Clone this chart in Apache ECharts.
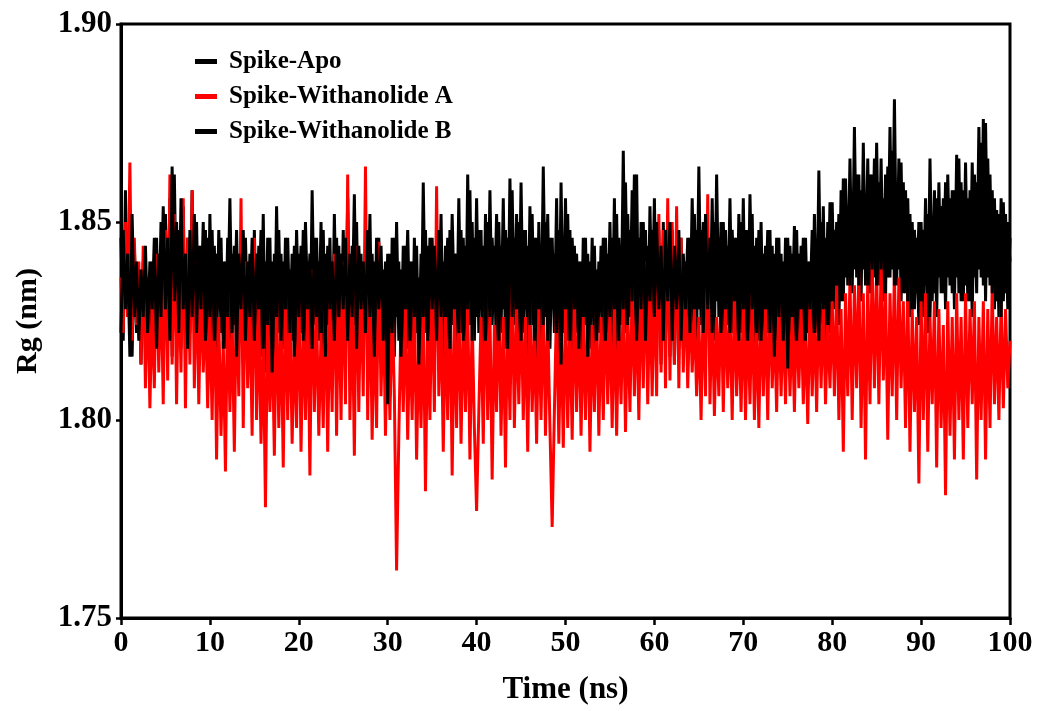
<!DOCTYPE html>
<html>
<head>
<meta charset="utf-8">
<script src="https://cdn.jsdelivr.net/npm/echarts@6/dist/echarts.min.js"></script>
<style>
html,body{margin:0;padding:0;background:#fff;}
#chart{width:1039px;height:711px;}
</style>
</head>
<body>
<div id="chart"></div>
<script>
// Sampling step of the trajectory (ns)
const timeStep = 0.25;
const xTicks = [0,10,20,30,40,50,60,70,80,90,100];
const yTicks = [1.75,1.80,1.85,1.90];
const seriesNames = ['Spike-Apo','Spike-Withanolide A','Spike-Withanolide B'];

const spikeApo = [
1.846,1.820,1.858,1.826,1.850,1.816,1.844,1.822,1.838,1.814,1.840,1.818,1.836,1.814,1.840,1.820,1.846,1.822,1.850,1.818,
1.852,1.822,1.856,1.816,1.862,1.824,1.848,1.818,1.854,1.816,1.846,1.822,1.858,1.826,1.850,1.818,1.844,1.822,1.848,1.816,
1.852,1.820,1.844,1.816,1.848,1.822,1.840,1.818,1.846,1.816,1.842,1.824,1.848,1.820,1.838,1.814,1.846,1.822,1.842,1.818,
1.848,1.822,1.844,1.816,1.852,1.812,1.846,1.820,1.840,1.814,1.854,1.822,1.842,1.818,1.846,1.814,1.838,1.820,1.844,1.816,
1.842,1.822,1.848,1.818,1.840,1.814,1.858,1.824,1.846,1.820,1.850,1.816,1.842,1.824,1.846,1.814,1.852,1.822,1.844,1.818,
1.848,1.820,1.856,1.816,1.844,1.824,1.850,1.818,1.842,1.814,1.846,1.822,1.852,1.816,1.840,1.820,1.846,1.814,1.838,1.818,
1.842,1.806,1.846,1.816,1.850,1.820,1.838,1.814,1.844,1.818,1.840,1.812,1.846,1.822,1.836,1.816,1.860,1.822,1.844,1.818,
1.846,1.814,1.840,1.822,1.852,1.816,1.844,1.812,1.848,1.824,1.842,1.818,1.856,1.822,1.846,1.816,1.862,1.824,1.850,1.820,
1.856,1.822,1.848,1.814,1.852,1.820,1.858,1.824,1.844,1.812,1.850,1.822,1.856,1.818,1.846,1.812,1.858,1.824,1.852,1.820,
1.860,1.822,1.848,1.816,1.854,1.824,1.846,1.812,1.850,1.820,1.864,1.826,1.852,1.818,1.846,1.822,1.856,1.816,1.860,1.822,
1.856,1.820,1.848,1.814,1.844,1.822,1.840,1.816,1.846,1.824,1.842,1.818,1.846,1.814,1.838,1.822,1.844,1.816,1.846,1.822,
1.850,1.818,1.856,1.814,1.846,1.824,1.868,1.822,1.852,1.826,1.858,1.822,1.862,1.818,1.850,1.822,1.848,1.816,1.854,1.824,
1.856,1.818,1.848,1.814,1.850,1.822,1.844,1.816,1.848,1.814,1.842,1.822,1.846,1.818,1.840,1.814,1.846,1.822,1.852,1.820,
1.864,1.824,1.850,1.820,1.846,1.822,1.856,1.820,1.862,1.826,1.850,1.820,1.848,1.824,1.856,1.822,1.846,1.818,1.852,1.822,
1.856,1.818,1.848,1.822,1.852,1.816,1.846,1.820,1.850,1.818,1.844,1.822,1.848,1.816,1.842,1.820,1.846,1.812,1.840,1.810,
1.846,1.818,1.842,1.814,1.848,1.820,1.844,1.814,1.846,1.822,1.840,1.818,1.852,1.822,1.863,1.824,1.854,1.820,1.850,1.822,
1.855,1.828,1.850,1.824,1.858,1.830,1.861,1.834,1.866,1.832,1.874,1.836,1.862,1.830,1.870,1.834,1.866,1.832,1.862,1.836,
1.870,1.834,1.866,1.830,1.862,1.836,1.874,1.838,1.881,1.834,1.866,1.830,1.860,1.832,1.856,1.826,1.850,1.828,1.846,1.824,
1.850,1.826,1.856,1.822,1.866,1.830,1.858,1.826,1.860,1.832,1.856,1.828,1.862,1.834,1.858,1.828,1.867,1.832,1.860,1.830,
1.865,1.830,1.858,1.826,1.862,1.832,1.874,1.836,1.876,1.830,1.866,1.834,1.858,1.828,1.853,1.826,1.856,1.830,1.852,1.828,
1.846
];

const spikeWithA = [
1.836,1.822,1.850,1.826,1.865,1.820,1.846,1.824,1.840,1.814,1.844,1.808,1.836,1.803,1.830,1.808,1.842,1.812,1.838,1.804,
1.848,1.810,1.862,1.814,1.852,1.804,1.840,1.812,1.856,1.803,1.846,1.814,1.858,1.808,1.840,1.804,1.836,1.812,1.830,1.803,
1.828,1.800,1.836,1.790,1.826,1.796,1.820,1.787,1.832,1.802,1.826,1.792,1.834,1.806,1.856,1.798,1.840,1.808,1.830,1.796,
1.846,1.800,1.828,1.794,1.822,1.778,1.830,1.802,1.824,1.791,1.832,1.798,1.826,1.788,1.834,1.800,1.828,1.794,1.822,1.798,
1.834,1.792,1.826,1.800,1.830,1.786,1.838,1.802,1.828,1.796,1.822,1.798,1.834,1.792,1.830,1.802,1.842,1.796,1.836,1.800,
1.840,1.804,1.862,1.800,1.832,1.791,1.844,1.802,1.838,1.806,1.864,1.800,1.836,1.795,1.828,1.798,1.845,1.806,1.832,1.796,
1.826,1.800,1.830,1.806,1.762,1.796,1.826,1.802,1.830,1.795,1.824,1.800,1.832,1.790,1.820,1.798,1.830,1.782,1.826,1.800,
1.836,1.802,1.859,1.806,1.830,1.792,1.826,1.800,1.834,1.786,1.828,1.798,1.832,1.794,1.826,1.802,1.830,1.790,1.826,1.798,
1.777,1.802,1.826,1.794,1.834,1.800,1.828,1.785,1.824,1.802,1.832,1.796,1.826,1.788,1.830,1.800,1.838,1.798,1.828,1.804,
1.832,1.800,1.826,1.792,1.830,1.802,1.824,1.794,1.828,1.800,1.832,1.796,1.826,1.798,1.773,1.802,1.830,1.794,1.826,1.793,
1.830,1.798,1.826,1.795,1.832,1.802,1.828,1.796,1.826,1.800,1.830,1.792,1.824,1.802,1.830,1.796,1.826,1.800,1.832,1.804,
1.828,1.798,1.830,1.796,1.826,1.804,1.832,1.797,1.828,1.802,1.834,1.806,1.830,1.800,1.836,1.808,1.840,1.804,1.834,1.806,
1.838,1.806,1.852,1.812,1.848,1.808,1.856,1.810,1.850,1.814,1.854,1.808,1.846,1.812,1.836,1.808,1.832,1.812,1.828,1.806,
1.826,1.800,1.832,1.806,1.857,1.804,1.830,1.801,1.826,1.806,1.834,1.802,1.830,1.808,1.828,1.800,1.832,1.806,1.826,1.802,
1.830,1.800,1.828,1.804,1.832,1.800,1.826,1.798,1.830,1.806,1.828,1.800,1.834,1.808,1.826,1.802,1.830,1.806,1.828,1.804,
1.832,1.806,1.826,1.802,1.830,1.808,1.828,1.804,1.824,1.799,1.830,1.806,1.828,1.802,1.832,1.808,1.830,1.804,1.826,1.808,
1.830,1.806,1.834,1.800,1.828,1.792,1.832,1.806,1.836,1.800,1.834,1.808,1.838,1.798,1.832,1.790,1.836,1.804,1.840,1.808,
1.838,1.804,1.840,1.810,1.834,1.795,1.832,1.806,1.838,1.800,1.836,1.808,1.830,1.798,1.834,1.792,1.828,1.802,1.826,1.784,
1.830,1.800,1.832,1.792,1.826,1.804,1.830,1.788,1.828,1.798,1.824,1.781,1.830,1.796,1.826,1.790,1.832,1.800,1.826,1.790,
1.832,1.798,1.828,1.804,1.830,1.785,1.826,1.800,1.830,1.790,1.828,1.798,1.834,1.804,1.826,1.800,1.830,1.803,1.828,1.808,
1.820
];

const spikeWithB = [
1.822,1.848,1.828,1.842,1.816,1.852,1.826,1.840,1.820,1.838,1.826,1.844,1.822,1.840,1.828,1.846,1.818,1.842,1.826,1.854,
1.828,1.846,1.820,1.864,1.830,1.850,1.822,1.856,1.828,1.842,1.818,1.848,1.826,1.852,1.822,1.844,1.828,1.850,1.820,1.846,
1.826,1.848,1.820,1.842,1.828,1.846,1.818,1.840,1.826,1.856,1.822,1.844,1.816,1.842,1.828,1.848,1.820,1.840,1.826,1.846,
1.820,1.842,1.828,1.848,1.818,1.840,1.824,1.846,1.812,1.842,1.826,1.848,1.820,1.840,1.828,1.846,1.822,1.842,1.816,1.848,
1.826,1.844,1.820,1.850,1.828,1.842,1.818,1.846,1.826,1.840,1.822,1.848,1.816,1.844,1.828,1.840,1.820,1.846,1.826,1.842,
1.828,1.846,1.820,1.842,1.826,1.857,1.818,1.844,1.828,1.840,1.822,1.848,1.826,1.842,1.816,1.846,1.828,1.844,1.820,1.840,
1.804,1.842,1.822,1.846,1.826,1.840,1.816,1.844,1.828,1.848,1.820,1.840,1.826,1.844,1.814,1.842,1.826,1.848,1.820,1.846,
1.828,1.844,1.820,1.848,1.826,1.840,1.830,1.846,1.818,1.852,1.828,1.842,1.822,1.848,1.820,1.844,1.828,1.858,1.820,1.846,
1.826,1.848,1.828,1.844,1.820,1.850,1.826,1.846,1.828,1.852,1.820,1.844,1.828,1.848,1.818,1.861,1.826,1.846,1.828,1.850,
1.820,1.848,1.828,1.844,1.824,1.852,1.820,1.846,1.828,1.844,1.824,1.850,1.820,1.846,1.828,1.842,1.822,1.848,1.814,1.846,
1.828,1.852,1.820,1.846,1.828,1.842,1.818,1.840,1.826,1.846,1.816,1.840,1.826,1.844,1.820,1.840,1.828,1.846,1.820,1.842,
1.826,1.846,1.828,1.852,1.820,1.844,1.828,1.860,1.824,1.848,1.830,1.862,1.820,1.846,1.828,1.850,1.820,1.844,1.830,1.848,
1.826,1.850,1.828,1.844,1.820,1.848,1.830,1.850,1.820,1.844,1.828,1.848,1.820,1.842,1.828,1.846,1.822,1.856,1.828,1.848,
1.828,1.848,1.822,1.852,1.828,1.846,1.822,1.850,1.830,1.846,1.822,1.850,1.828,1.844,1.822,1.848,1.830,1.846,1.820,1.850,
1.828,1.848,1.820,1.857,1.828,1.844,1.822,1.848,1.820,1.842,1.828,1.848,1.822,1.844,1.816,1.846,1.826,1.842,1.820,1.846,
1.813,1.844,1.826,1.849,1.820,1.842,1.828,1.846,1.820,1.840,1.828,1.848,1.822,1.844,1.820,1.850,1.828,1.846,1.824,1.855,
1.830,1.848,1.834,1.852,1.830,1.861,1.836,1.850,1.834,1.856,1.838,1.862,1.834,1.858,1.838,1.856,1.834,1.862,1.838,1.866,
1.834,1.860,1.838,1.856,1.832,1.864,1.836,1.868,1.834,1.860,1.838,1.865,1.832,1.858,1.830,1.852,1.828,1.848,1.832,1.850,
1.830,1.848,1.834,1.852,1.826,1.850,1.832,1.856,1.836,1.854,1.832,1.860,1.836,1.856,1.832,1.858,1.836,1.866,1.830,1.858,
1.834,1.856,1.830,1.865,1.836,1.860,1.838,1.870,1.834,1.875,1.836,1.862,1.832,1.856,1.830,1.852,1.826,1.855,1.832,1.850,
1.840
];

function pairs(vals){ return vals.map((v,i)=>[i*timeStep, v]); }

const FONT = '"Liberation Serif","Times New Roman",serif';
const chart = echarts.init(document.getElementById('chart'), null, {renderer:'canvas'});
chart.setOption({
  animation:false,
  backgroundColor:'#ffffff',
  grid:{left:121,right:29,top:24,bottom:93,show:true,borderColor:'#000',borderWidth:3,containLabel:false},
  legend:{
    orient:'vertical', left:190, top:44, itemGap:10,
    itemWidth:22, itemHeight:5, icon:'rect',
    textStyle:{fontFamily:FONT,fontWeight:'bold',fontSize:25,color:'#000',padding:[0,0,0,7]},
    data:seriesNames
  },
  xAxis:{
    type:'value', min:xTicks[0], max:xTicks[xTicks.length-1], interval:10,
    name:'Time (ns)', nameLocation:'middle', nameGap:56,
    nameTextStyle:{fontFamily:FONT,fontWeight:'bold',fontSize:31,color:'#000'},
    axisLine:{show:true,lineStyle:{color:'#000',width:3}},
    axisTick:{show:true,inside:false,length:7,lineStyle:{color:'#000',width:2.5}},
    axisLabel:{fontFamily:FONT,fontWeight:'bold',fontSize:30,color:'#000',margin:10},
    splitLine:{show:false}
  },
  yAxis:{
    type:'value', min:yTicks[0], max:yTicks[yTicks.length-1], interval:0.05,
    name:'Rg (nm)', nameLocation:'middle', nameGap:78, nameRotate:90,
    nameTextStyle:{fontFamily:FONT,fontWeight:'bold',fontSize:30,color:'#000'},
    axisLine:{show:true,lineStyle:{color:'#000',width:3}},
    axisTick:{show:true,inside:false,length:5,lineStyle:{color:'#000',width:2.5}},
    axisLabel:{fontFamily:FONT,fontWeight:'bold',fontSize:31,color:'#000',margin:9,
      formatter:v=>v.toFixed(2)},
    splitLine:{show:false}
  },
  series:[
    {name:seriesNames[0],type:'line',data:pairs(spikeApo),showSymbol:false,symbol:'none',
      lineStyle:{color:'#000000',width:3},itemStyle:{color:'#000000'}},
    {name:seriesNames[1],type:'line',data:pairs(spikeWithA),showSymbol:false,symbol:'none',
      lineStyle:{color:'#ff0000',width:3},itemStyle:{color:'#ff0000'}},
    {name:seriesNames[2],type:'line',data:pairs(spikeWithB),showSymbol:false,symbol:'none',
      lineStyle:{color:'#000000',width:3},itemStyle:{color:'#000000'}}
  ]
});
</script>
</body>
</html>
